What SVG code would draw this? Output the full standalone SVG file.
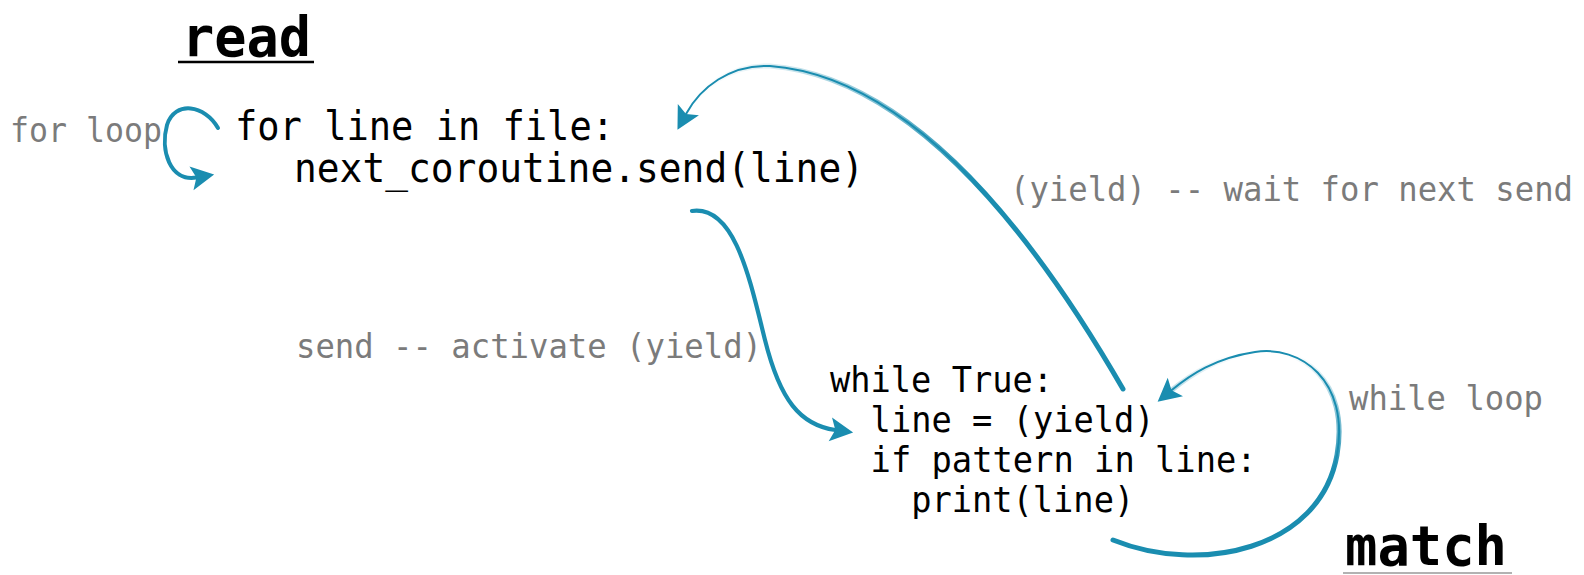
<svg xmlns="http://www.w3.org/2000/svg" width="1584" height="575" viewBox="0 0 1584 575">
  <style>
    text { font-family: "DejaVu Sans Mono", "Liberation Mono", monospace; }
    .title { font-size: 56px; font-weight: bold; fill: #000; }
    .code { font-size: 40px; fill: #000; }
    .code2 { font-size: 36px; fill: #000; }
    .note { font-size: 33px; fill: #7b7b7b; }
    .arc { fill: none; stroke: #1a8db0; stroke-linecap: round; }
    .uline { stroke: #000; stroke-width: 2.5; }
  </style>
  <defs>
    <marker id="head" markerUnits="userSpaceOnUse" markerWidth="60" markerHeight="60" refX="0" refY="0" orient="auto" overflow="visible">
      <path d="M18,0 L-5,-12 L0,0 L-5,12 Z" fill="#1a8db0"/>
    </marker>
    <path id="p-for" d="M218,128 C205,105 175,100 167,125 C160,150 170,182 196.4,177.5"/>
    <path id="p-send" d="M692,211 C735,205 750,280 765,340 C780,400 800,425 835.3,430"/>
    <path id="p-yield" d="M1123,389 C1060,280 930,78 770,66 C730,64 700,88 686,114"/>
    <path id="p-while" d="M1113,540 C1200,575 1320,550 1337,455 C1350,380 1300,345 1255,352 C1215,358 1190,375 1171.5,390.3"/>
    <!-- fades that thin the heavy stroke toward the arrow end -->
    <linearGradient id="g-yield" gradientUnits="userSpaceOnUse" x1="1123" y1="389" x2="686" y2="114">
      <stop offset="0.45" stop-color="#fff"/>
      <stop offset="1" stop-color="#000"/>
    </linearGradient>
    <linearGradient id="g-while" gradientUnits="userSpaceOnUse" x1="0" y1="545" x2="0" y2="355">
      <stop offset="0.4" stop-color="#fff"/>
      <stop offset="1" stop-color="#000"/>
    </linearGradient>
    <mask id="m-yield" maskUnits="userSpaceOnUse" x="0" y="0" width="1584" height="575">
      <rect width="1584" height="575" fill="url(#g-yield)"/>
    </mask>
    <mask id="m-while" maskUnits="userSpaceOnUse" x="0" y="0" width="1584" height="575">
      <rect width="1584" height="575" fill="url(#g-while)"/>
    </mask>
  </defs>

  <!-- producer: read -->
  <g id="read">
    <text class="title" x="182" y="56" textLength="129" lengthAdjust="spacingAndGlyphs">read</text>
    <line class="uline" x1="178" y1="62" x2="314" y2="62"/>
    <text class="code" x="235" y="140" textLength="379" lengthAdjust="spacingAndGlyphs">for line in file:</text>
    <text class="code" x="294" y="182" textLength="570" lengthAdjust="spacingAndGlyphs">next_coroutine.send(line)</text>
  </g>

  <!-- consumer: match -->
  <g id="match">
    <text class="code2" x="830" y="392" textLength="223" lengthAdjust="spacingAndGlyphs">while True:</text>
    <text class="code2" x="870.6" y="432" textLength="284" lengthAdjust="spacingAndGlyphs">line = (yield)</text>
    <text class="code2" x="870.6" y="472" textLength="386" lengthAdjust="spacingAndGlyphs">if pattern in line:</text>
    <text class="code2" x="911.2" y="512" textLength="223" lengthAdjust="spacingAndGlyphs">print(line)</text>
    <text class="title" x="1345" y="565" textLength="162" lengthAdjust="spacingAndGlyphs">match</text>
    <line x1="1343" y1="573" x2="1512" y2="573" stroke="#999" stroke-width="1.5"/>
  </g>

  <g id="connectors">
    <g id="for-loop">
      <use href="#p-for" class="arc" stroke-width="4" marker-end="url(#head)"/>
      <text class="note" x="10" y="142" textLength="152" lengthAdjust="spacingAndGlyphs">for loop</text>
    </g>
    <g id="send">
      <use href="#p-send" class="arc" stroke-width="4.2" marker-end="url(#head)"/>
      <text class="note" x="296" y="358" textLength="466" lengthAdjust="spacingAndGlyphs">send -- activate (yield)</text>
    </g>
    <g id="yield">
      <use href="#p-yield" class="arc" stroke-width="2" marker-end="url(#head)"/>
      <use href="#p-yield" class="arc" stroke-width="5" mask="url(#m-yield)"/>
      <text class="note" x="1010" y="201" textLength="563" lengthAdjust="spacingAndGlyphs">(yield) -- wait for next send</text>
    </g>
    <g id="while-loop">
      <use href="#p-while" class="arc" stroke-width="2" marker-end="url(#head)"/>
      <use href="#p-while" class="arc" stroke-width="5" mask="url(#m-while)"/>
      <text class="note" x="1349" y="410" textLength="194" lengthAdjust="spacingAndGlyphs">while loop</text>
    </g>
  </g>
</svg>
